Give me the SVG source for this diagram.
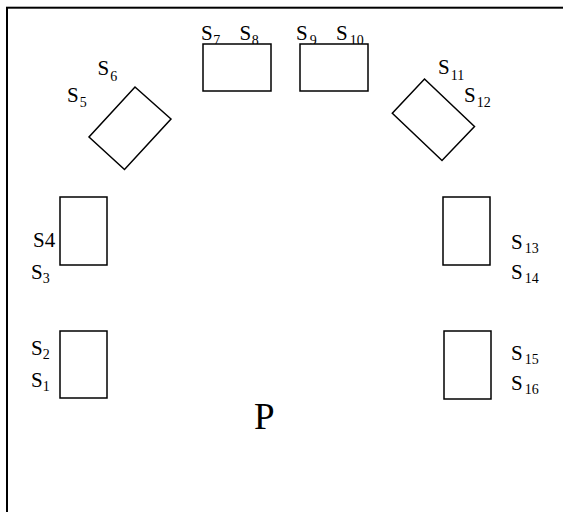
<svg xmlns="http://www.w3.org/2000/svg" width="563" height="512" viewBox="0 0 563 512">
  <style>
    .frame { fill: none; stroke: #000; stroke-width: 2; }
    .slot { fill: #fff; stroke: #000; stroke-width: 1.5; }
    .lbl { font-family: "Liberation Serif", "Times New Roman", serif; font-size: 21px; fill: #000; }
    .sub { font-size: 14px; }
    .big { font-family: "Liberation Serif", "Times New Roman", serif; font-size: 37px; fill: #000; }
  </style>
  <rect width="563" height="512" fill="#fff"/>
  <!-- outer frame: only the top and left edges fall inside the canvas -->
  <rect class="frame" x="7" y="7.7" width="620" height="620"/>

  <!-- labels -->
  <g id="labels">
    <text class="lbl" x="67" y="101.7">S<tspan class="sub" dx="1" dy="5.5">5</tspan></text>
    <text class="lbl" x="97.5" y="75">S<tspan class="sub" dx="1" dy="5.5">6</tspan></text>
    <text class="lbl" x="201" y="39.5">S<tspan class="sub" dx="0.5" dy="5">7</tspan></text>
    <text class="lbl" x="239.5" y="39.5">S<tspan class="sub" dx="0.5" dy="5">8</tspan></text>
    <text class="lbl" x="296" y="39.5">S<tspan class="sub" dx="2" dy="5">9</tspan></text>
    <text class="lbl" x="336" y="39.5">S<tspan class="sub" dx="2" dy="5">10</tspan></text>
    <text class="lbl" x="438" y="74">S<tspan class="sub" dx="1" dy="5.5">11</tspan></text>
    <text class="lbl" x="464" y="101.7">S<tspan class="sub" dx="1" dy="5.5">12</tspan></text>
    <text class="lbl" x="33" y="246.5">S4</text>
    <text class="lbl" x="31" y="278.5">S<tspan class="sub" dy="4">3</tspan></text>
    <text class="lbl" x="31" y="355">S<tspan class="sub" dy="4">2</tspan></text>
    <text class="lbl" x="31" y="386.7">S<tspan class="sub" dy="4">1</tspan></text>
    <text class="lbl" x="511" y="249">S<tspan class="sub" dx="2" dy="4">13</tspan></text>
    <text class="lbl" x="511" y="278.5">S<tspan class="sub" dx="2" dy="4">14</tspan></text>
    <text class="lbl" x="511" y="360">S<tspan class="sub" dx="2" dy="4">15</tspan></text>
    <text class="lbl" x="511" y="390">S<tspan class="sub" dx="2" dy="4">16</tspan></text>
    <text class="big" x="254" y="429">P</text>
  </g>

  <!-- slots -->
  <g id="slot-s5-s6"><polygon class="slot" points="135,87 171,119 124.5,169.5 89,137"/></g>
  <g id="slot-s7-s8"><rect class="slot" x="203" y="44" width="68" height="47"/></g>
  <g id="slot-s9-s10"><rect class="slot" x="300" y="44" width="68" height="47"/></g>
  <g id="slot-s11-s12"><polygon class="slot" points="424.5,79 474.5,126.5 442,160.5 392.3,113.3"/></g>
  <g id="slot-s3-s4"><rect class="slot" x="60" y="197" width="47" height="68"/></g>
  <g id="slot-s1-s2"><rect class="slot" x="60" y="331" width="47" height="67"/></g>
  <g id="slot-s13-s14"><rect class="slot" x="443" y="197" width="47" height="68"/></g>
  <g id="slot-s15-s16"><rect class="slot" x="444" y="331" width="47" height="68"/></g>
</svg>
